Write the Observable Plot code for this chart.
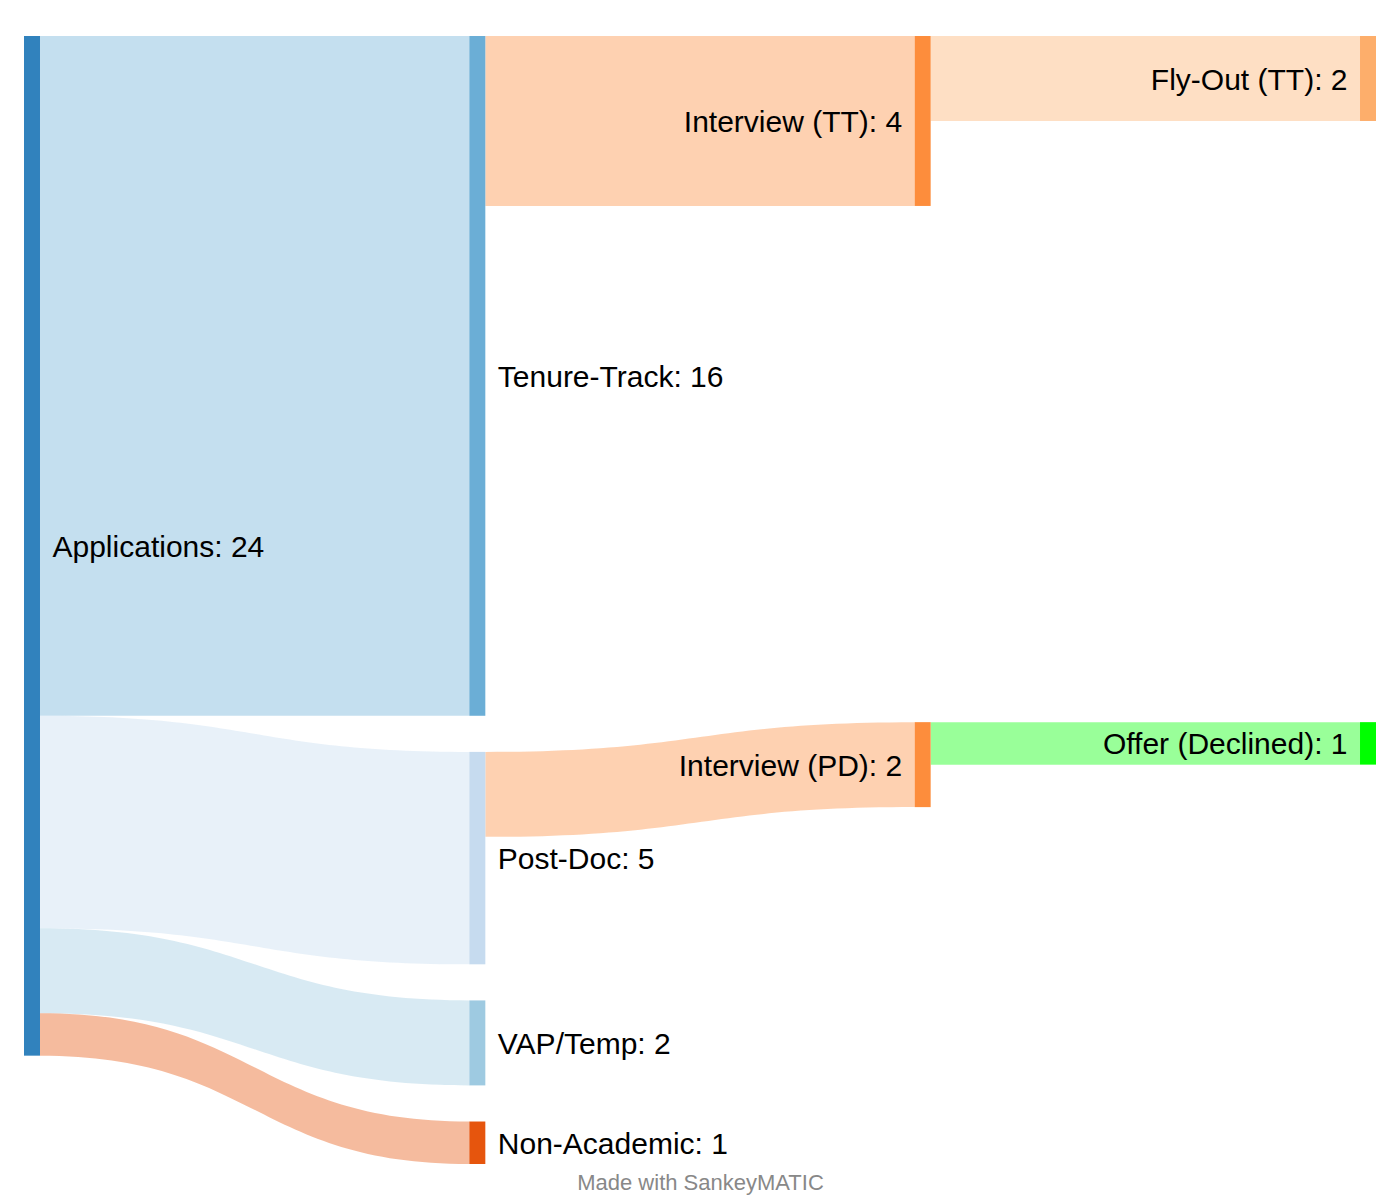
<!DOCTYPE html>
<html>
<head>
<meta charset="utf-8">
<script src="https://cdn.jsdelivr.net/npm/d3@7"></script>
<script src="https://cdn.jsdelivr.net/npm/@observablehq/plot@0.6"></script>
<style>
  html, body { margin: 0; padding: 0; background: #fff; }
  #chart svg { display: block; }
</style>
</head>
<body>
<div id="chart"></div>
<script>
// ---- Data ----
const nodeNames = ["Applications", "Tenure-Track", "Post-Doc", "VAP/Temp", "Non-Academic",
                   "Interview (TT)", "Interview (PD)", "Fly-Out (TT)", "Offer (Declined)"];
const nodeColors = ["#3182bd", "#6baed6", "#c6dbef", "#9ecae1", "#e6550d",
                    "#fd8d3c", "#fd8d3c", "#fdae6b", "#00ff00"];
const linkSources = ["Applications", "Applications", "Applications", "Applications",
                     "Tenure-Track", "Post-Doc", "Interview (TT)", "Interview (PD)"];
const linkTargets = ["Tenure-Track", "Post-Doc", "VAP/Temp", "Non-Academic",
                     "Interview (TT)", "Interview (PD)", "Fly-Out (TT)", "Offer (Declined)"];
const linkValues = [16, 5, 2, 1, 4, 2, 2, 1];
const caption = "Made with SankeyMATIC";

// ---- Layout settings (in value units) ----
const nodePadding = 0.85;      // vertical gap between nodes
const nodeWidth = 0.0359;      // node width in column units
const linkOpacity = 0.4;
const nodeShift = {"Interview (PD)": -0.7}; // relaxation offset like the original layout

// ---- Build layout ----
const nodes = nodeNames.map((name, i) => ({name, color: nodeColors[i], inL: [], outL: []}));
const byName = new Map(nodes.map(n => [n.name, n]));
const links = linkSources.map((s, i) => ({id: i, source: byName.get(s), target: byName.get(linkTargets[i]), value: linkValues[i]}));
for (const l of links) { l.source.outL.push(l); l.target.inL.push(l); }
for (const n of nodes) {
  n.value = Math.max(d3.sum(n.inL, l => l.value), d3.sum(n.outL, l => l.value));
}
function depth(n) { return n.inL.length ? 1 + d3.max(n.inL, l => depth(l.source)) : 0; }
for (const n of nodes) n.col = depth(n);
const columns = d3.groups(nodes, n => n.col).sort((a, b) => a[0] - b[0]);
for (const [col, ns] of columns) {
  if (col <= 1) {
    let y = 0;
    for (const n of ns) { n.y0 = y; n.y1 = y + n.value; y = n.y1 + nodePadding; }
  } else {
    for (const n of ns) {
      const l = n.inL[0];
      n.y0 = l.sy0 + (nodeShift[n.name] || 0);
      n.y1 = n.y0 + n.value;
    }
  }
  for (const n of ns) {
    let sy = n.y0;
    for (const l of n.outL) { l.sy0 = sy; sy += l.value; }
  }
}
for (const n of nodes) { let ty = n.y0; for (const l of n.inL) { l.ty0 = ty; ty += l.value; } }

const linkPts = links.flatMap(l => [
  {id: l.id, x: l.source.col + nodeWidth, y1: l.sy0, y2: l.sy0 + l.value, color: l.target.color},
  {id: l.id, x: l.target.col, y1: l.ty0, y2: l.ty0 + l.value, color: l.target.color}
]);
const yMax = d3.max(nodes, n => n.y1);
const maxCol = d3.max(nodes, n => n.col);
const labelData = nodes.map(n => ({...n, label: `${n.name}: ${n.value}`, mid: (n.y0 + n.y1) / 2}));

const chart = Plot.plot({
  width: 1400,
  height: 1200,
  marginTop: 36,
  marginBottom: 36,
  marginLeft: 24,
  marginRight: 24,
  x: {domain: [0, maxCol + nodeWidth], axis: null},
  y: {domain: [0, yMax], reverse: true, axis: null},
  color: {type: "identity"},
  style: {fontFamily: "'Liberation Sans', Arial, Helvetica, sans-serif", background: "#fff"},
  marks: [
    Plot.areaY(linkPts, {x: "x", y1: "y1", y2: "y2", z: "id", fill: "color", fillOpacity: linkOpacity, curve: "bump-x"}),
    Plot.rect(nodes, {x1: "col", x2: n => n.col + nodeWidth, y1: "y0", y2: "y1", fill: "color"}),
    Plot.text(labelData.filter(n => n.col < 2), {x: n => n.col + nodeWidth, y: "mid", text: "label", textAnchor: "start", dx: 12, dy: 1, fontSize: 30, fill: "#000"}),
    Plot.text(labelData.filter(n => n.col >= 2), {x: "col", y: "mid", text: "label", textAnchor: "end", dx: -13, dy: 1, fontSize: 30, fill: "#000"}),
    Plot.text([caption], {frameAnchor: "bottom", text: d => d, dy: 25, lineAnchor: "bottom", fontSize: 22, fill: "#888"})
  ]
});
document.getElementById("chart").appendChild(chart);
</script>
</body>
</html>
